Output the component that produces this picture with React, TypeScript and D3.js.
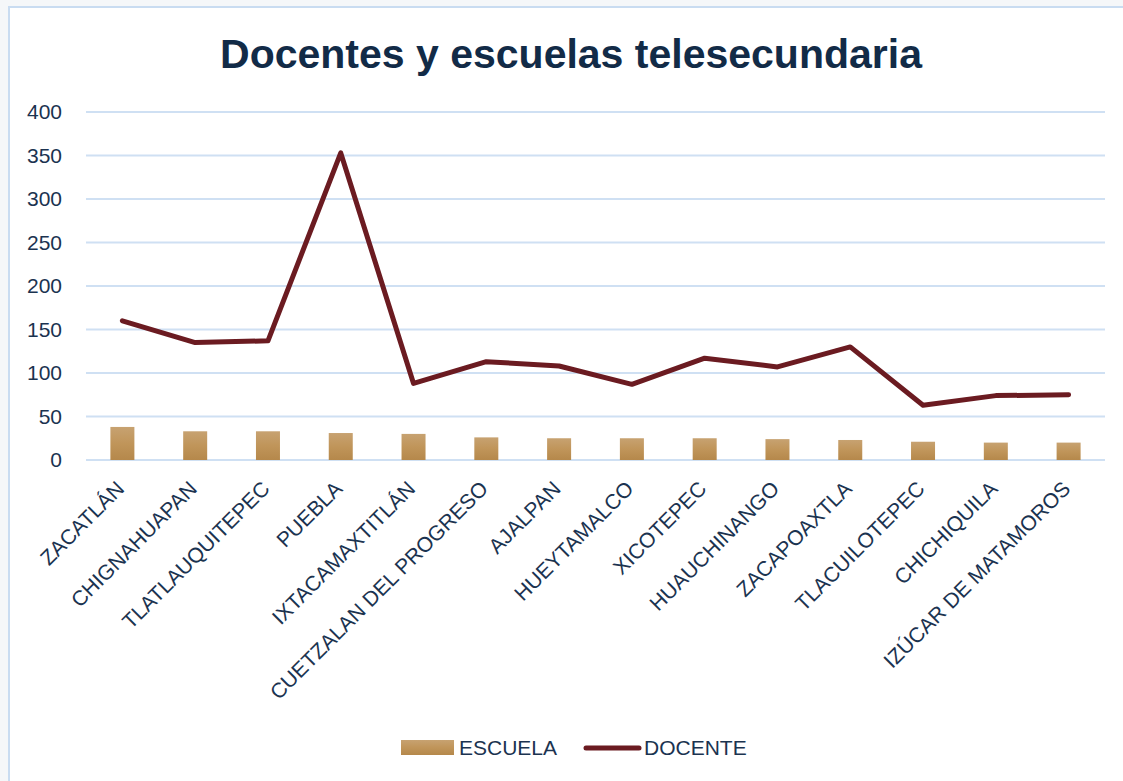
import { useEffect, useRef } from 'react'
import * as d3 from 'd3'

const municipios = [
  'ZACATLÁN',
  'CHIGNAHUAPAN',
  'TLATLAUQUITEPEC',
  'PUEBLA',
  'IXTACAMAXTITLÁN',
  'CUETZALAN DEL PROGRESO',
  'AJALPAN',
  'HUEYTAMALCO',
  'XICOTEPEC',
  'HUAUCHINANGO',
  'ZACAPOAXTLA',
  'TLACUILOTEPEC',
  'CHICHIQUILA',
  'IZÚCAR DE MATAMOROS',
]
const escuelas = [38, 33, 33, 31, 30, 26, 25, 25, 25, 24, 23, 21, 20, 20]
const docentes = [160, 135, 137, 353, 88, 113, 108, 87, 117, 107, 130, 63, 74, 75]
const yTicks = [0, 50, 100, 150, 200, 250, 300, 350, 400]

const W = 1123
const H = 781
const textColor = '#1b3350'
const lineColor = '#6b1b21'
const gridColor = '#cfe0f3'
const font = 'Liberation Sans, Arial, sans-serif'

export default function App() {
  const svgRef = useRef<SVGSVGElement | null>(null)

  useEffect(() => {
    if (!svgRef.current) return
    const svg = d3.select(svgRef.current)
    svg.selectAll('*').remove()

    const left = 86,
      right = 1105,
      top = 112,
      bottom = 460

    const x = d3.scaleBand<string>().domain(municipios).range([left, right])
    const y = d3.scaleLinear().domain([0, 400]).range([bottom, top])

    // fondo y marco
    svg.append('rect').attr('width', W).attr('height', H).attr('fill', '#f5f7f9')
    svg
      .append('rect')
      .attr('x', 9)
      .attr('y', 7)
      .attr('width', W + 10)
      .attr('height', H + 10)
      .attr('fill', '#fff')
      .attr('stroke', '#c9dcf1')
      .attr('stroke-width', 2)

    const defs = svg.append('defs')
    const grad = defs
      .append('linearGradient')
      .attr('id', 'barGrad')
      .attr('x1', 0)
      .attr('y1', 0)
      .attr('x2', 0)
      .attr('y2', 1)
    grad.append('stop').attr('offset', '0%').attr('stop-color', '#c7a271')
    grad.append('stop').attr('offset', '50%').attr('stop-color', '#c0955a')
    grad.append('stop').attr('offset', '100%').attr('stop-color', '#b5884b')

    // título
    svg
      .append('text')
      .attr('x', 571)
      .attr('y', 68)
      .attr('text-anchor', 'middle')
      .attr('font-family', font)
      .attr('font-weight', 'bold')
      .attr('font-size', 41)
      .attr('fill', '#122b47')
      .text('Docentes y escuelas telesecundaria')

    // cuadrícula
    svg
      .append('g')
      .selectAll('line')
      .data(yTicks)
      .join('line')
      .attr('x1', left)
      .attr('x2', right)
      .attr('y1', (d) => y(d))
      .attr('y2', (d) => y(d))
      .attr('stroke', gridColor)
      .attr('stroke-width', 2)

    svg
      .append('g')
      .selectAll('text')
      .data(yTicks)
      .join('text')
      .attr('x', 62)
      .attr('y', (d) => y(d) + 7)
      .attr('text-anchor', 'end')
      .attr('font-family', font)
      .attr('font-size', 21)
      .attr('fill', textColor)
      .text((d) => d)

    // barras
    const bw = 24
    svg
      .append('g')
      .selectAll('rect')
      .data(escuelas)
      .join('rect')
      .attr('x', (_, i) => x(municipios[i])! + x.bandwidth() / 2 - bw / 2)
      .attr('y', (d) => y(d))
      .attr('width', bw)
      .attr('height', (d) => bottom - y(d))
      .attr('fill', 'url(#barGrad)')

    // línea
    const line = d3
      .line<number>()
      .x((_, i) => x(municipios[i])! + x.bandwidth() / 2)
      .y((d) => y(d))
    svg
      .append('path')
      .datum(docentes)
      .attr('d', line)
      .attr('fill', 'none')
      .attr('stroke', lineColor)
      .attr('stroke-width', 5)
      .attr('stroke-linejoin', 'round')
      .attr('stroke-linecap', 'round')

    // etiquetas eje x
    svg
      .append('g')
      .selectAll('text')
      .data(municipios)
      .join('text')
      .attr('transform', (d) => `translate(${x(d)! + x.bandwidth() / 2 + 3},${490}) rotate(-45)`)
      .attr('text-anchor', 'end')
      .attr('font-family', font)
      .attr('font-size', 21)
      .attr('fill', textColor)
      .text((d) => d)

    // leyenda
    const lg = svg.append('g').attr('font-family', font)
    lg.append('rect')
      .attr('x', 401)
      .attr('y', 740)
      .attr('width', 53)
      .attr('height', 15)
      .attr('fill', 'url(#barGrad)')
    lg.append('text')
      .attr('x', 459)
      .attr('y', 755)
      .attr('font-size', 21)
      .attr('fill', textColor)
      .text('ESCUELA')
    lg.append('line')
      .attr('x1', 586)
      .attr('x2', 639)
      .attr('y1', 748)
      .attr('y2', 748)
      .attr('stroke', lineColor)
      .attr('stroke-width', 5)
      .attr('stroke-linecap', 'round')
    lg.append('text')
      .attr('x', 644)
      .attr('y', 755)
      .attr('font-size', 21)
      .attr('fill', textColor)
      .text('DOCENTE')
  }, [])

  return (
    <svg
      ref={svgRef}
      width={W}
      height={H}
      style={{ position: 'absolute', left: 0, top: 0, display: 'block' }}
    />
  )
}
